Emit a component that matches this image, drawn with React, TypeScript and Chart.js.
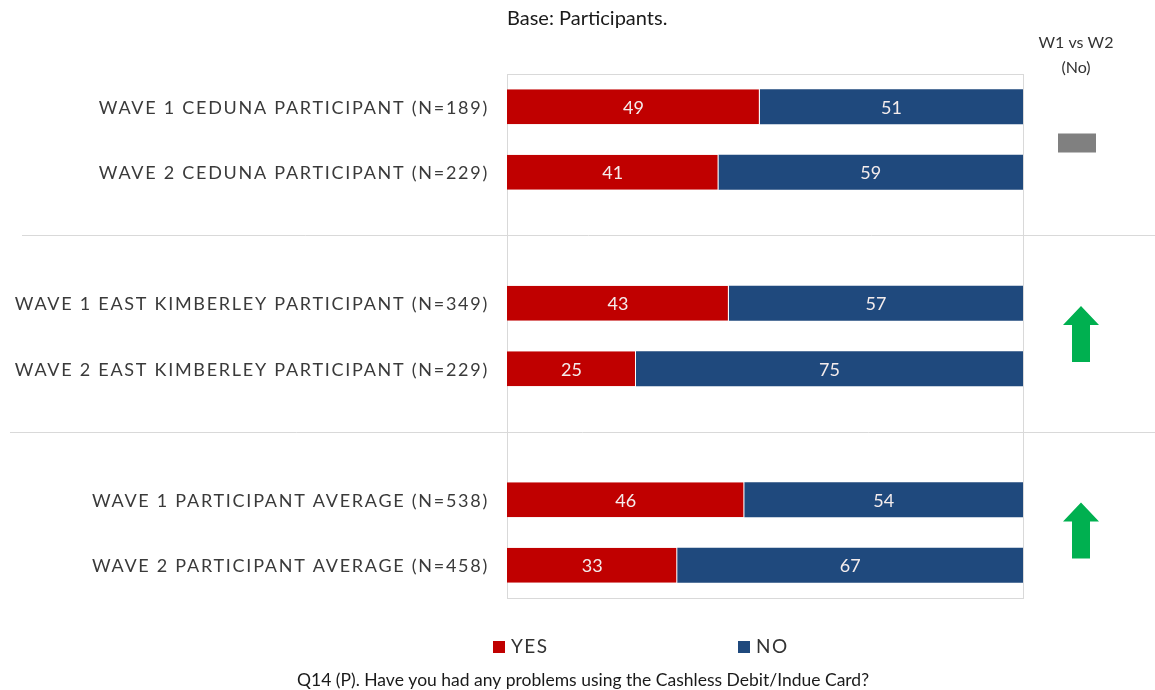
import React, { useEffect, useRef } from "react";
import { Chart, registerables } from "chart.js";

Chart.register(...registerables);

const categories = [
  "WAVE 1 CEDUNA PARTICIPANT (N=189)",
  "WAVE 2 CEDUNA PARTICIPANT (N=229)",
  "",
  "WAVE 1 EAST KIMBERLEY PARTICIPANT (N=349)",
  "WAVE 2 EAST KIMBERLEY PARTICIPANT (N=229)",
  "",
  "WAVE 1 PARTICIPANT AVERAGE (N=538)",
  "WAVE 2 PARTICIPANT AVERAGE (N=458)",
];
const yesValues = [49, 41, null, 43, 25, null, 46, 33];
const noValues = [51, 59, null, 57, 75, null, 54, 67];
const seriesNames = ["YES", "NO"];
const changeRows = [
  [0, 1],
  [3, 4],
  [6, 7],
];
const changeKinds = ["same", "up", "up"];
const subtitleText = "Base: Participants.";
const compareHeader = ["W1 vs W2", "(No)"];
const footnoteText = "Q14 (P). Have you had any problems using the Cashless Debit/Indue Card?";

const RED = "#C00000";
const BLUE = "#1F497D";
const FONT = "Lato, 'Open Sans', sans-serif";

const decorPlugin = {
  id: "decor",
  beforeDatasetsDraw(chart: any) {
    const { ctx, chartArea, scales } = chart;
    const y = scales.y;
    ctx.save();
    ctx.strokeStyle = "#d9d9d9";
    ctx.lineWidth = 1;
    const lefts = [22, 10];
    let k = 0;
    categories.forEach((c, i) => {
      if (c === "") {
        const py = Math.round(y.getPixelForValue(i) - 2.5) + 0.5;
        ctx.beginPath();
        ctx.moveTo(lefts[k] ?? 10, py);
        ctx.lineTo(chart.width, py);
        ctx.stroke();
        k++;
      }
    });
    ctx.strokeStyle = "#d9d9d9";
    ctx.strokeRect(
      Math.round(chartArea.left) + 0.5,
      Math.round(chartArea.top) + 0.5,
      Math.round(chartArea.right - chartArea.left),
      Math.round(chartArea.bottom - chartArea.top)
    );
    ctx.restore();
  },
  afterDatasetsDraw(chart: any) {
    const { ctx, chartArea, scales } = chart;
    const y = scales.y;
    ctx.save();
    // data labels
    ctx.font = `18px ${FONT}`;
    ctx.fillStyle = "#f4ecec";
    ctx.textAlign = "center";
    ctx.textBaseline = "middle";
    chart.data.datasets.forEach((ds: any, di: number) => {
      const meta = chart.getDatasetMeta(di);
      meta.data.forEach((el: any, i: number) => {
        const v = ds.data[i];
        if (v === null || v === undefined) return;
        ctx.fillText(String(v), (el.x + el.base) / 2, el.y + 1);
      });
    });
    // category labels
    ctx.font = `18px ${FONT}`;
    ctx.fillStyle = "#3a3a3a";
    ctx.textAlign = "right";
    (ctx as any).letterSpacing = "1.73px";
    categories.forEach((c, i) => {
      if (!c) return;
      ctx.fillText(c, chartArea.left - 18, y.getPixelForValue(i) + 1);
    });
    (ctx as any).letterSpacing = "0px";
    // subtitle
    ctx.textAlign = "left";
    ctx.fillStyle = "#1a1a1a";
    ctx.font = `20px ${FONT}`;
    ctx.fillText(subtitleText, chartArea.left, 19);
    // compare header
    const cx = 1076;
    ctx.textAlign = "center";
    ctx.font = `16px ${FONT}`;
    ctx.fillStyle = "#333333";
    ctx.fillText(compareHeader[0], cx, 43);
    ctx.fillText(compareHeader[1], cx, 68);
    // indicators
    changeRows.forEach((rows, gi) => {
      const my = (y.getPixelForValue(rows[0]) + y.getPixelForValue(rows[1])) / 2;
      const kind = changeKinds[gi];
      if (kind === "same") {
        ctx.fillStyle = "#808080";
        ctx.fillRect(cx - 18, my - 6, 38, 19);
      } else if (kind === "up") {
        ctx.fillStyle = "#00B050";
        const top = my - 30;
        const bottom = my + 26;
        ctx.beginPath();
        ctx.moveTo(cx + 5, top);
        ctx.lineTo(cx + 23, top + 19);
        ctx.lineTo(cx + 14, top + 19);
        ctx.lineTo(cx + 14, bottom);
        ctx.lineTo(cx - 4, bottom);
        ctx.lineTo(cx - 4, top + 19);
        ctx.lineTo(cx - 13, top + 19);
        ctx.closePath();
        ctx.fill();
      }
    });
    // legend
    ctx.font = `19px ${FONT}`;
    ctx.textAlign = "left";
    (ctx as any).letterSpacing = "1.5px";
    const legendX = [493, 738];
    const colors = [RED, BLUE];
    seriesNames.forEach((n, i) => {
      ctx.fillStyle = colors[i];
      ctx.fillRect(legendX[i], 641, 12, 12);
      ctx.fillStyle = "#333333";
      ctx.fillText(n, legendX[i] + 18, 647);
    });
    (ctx as any).letterSpacing = "0px";
    // footnote
    ctx.font = `17.5px ${FONT}`;
    ctx.textAlign = "center";
    ctx.fillStyle = "#1a1a1a";
    ctx.fillText(footnoteText, 583, 680);
    ctx.restore();
  },
};

export default function App() {
  const ref = useRef<HTMLCanvasElement>(null);
  useEffect(() => {
    if (!ref.current) return;
    const chart = new Chart(ref.current, {
      type: "bar",
      data: {
        labels: categories,
        datasets: [
          {
            label: seriesNames[0],
            data: yesValues as any,
            backgroundColor: RED,
            borderColor: "#ffffff",
            borderWidth: { top: 0, bottom: 0, left: 0, right: 1 } as any,
            borderSkipped: false,
          },
          {
            label: seriesNames[1],
            data: noValues as any,
            backgroundColor: BLUE,
            borderWidth: 0,
          },
        ],
      },
      options: {
        indexAxis: "y",
        animation: false,
        responsive: true,
        maintainAspectRatio: false,
        layout: { padding: { left: 507, right: 132, top: 74, bottom: 92 } },
        datasets: { bar: { categoryPercentage: 1, barPercentage: 0.535 } },
        scales: {
          x: { stacked: true, min: 0, max: 100, display: false },
          y: { stacked: true, display: false },
        },
        plugins: {
          legend: { display: false },
          tooltip: { enabled: false },
        },
      },
      plugins: [decorPlugin],
    });
    return () => chart.destroy();
  }, []);
  return (
    <div style={{ position: "absolute", left: 0, top: 0, width: 1155, height: 690, background: "#fff" }}>
      <canvas ref={ref} />
    </div>
  );
}
